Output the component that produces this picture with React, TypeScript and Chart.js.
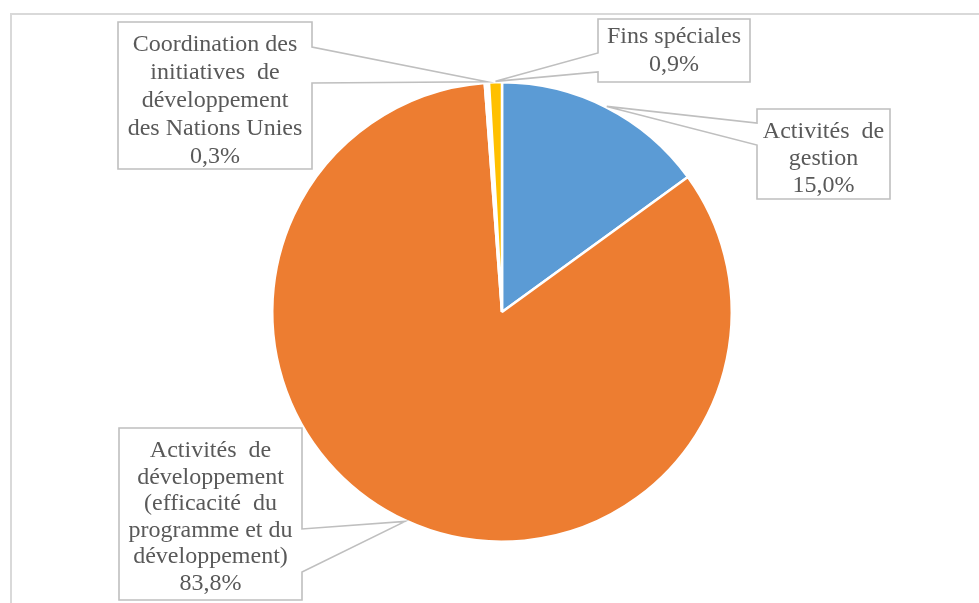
import React, { useEffect, useRef } from "react";
import { Chart, registerables } from "chart.js";

Chart.register(...registerables);

// ---- Data ----
const categories = [
  "Activités de gestion",
  "Activités de développement (efficacité du programme et du développement)",
  "Coordination des initiatives de développement des Nations Unies",
  "Fins spéciales",
];
const shares = [15.0, 83.8, 0.3, 0.9];
const labelTextLines = [
  ["Activités  de", "gestion"],
  ["Activités  de", "développement", "(efficacité  du", "programme et du", "développement)"],
  ["Coordination des", "initiatives  de", "développement", "des Nations Unies"],
  ["Fins spéciales"],
];
const sliceColors = ["#5B9BD5", "#ED7D31", "#FFFFFF", "#FFC000"];

// ---- Label callout layout (styling / positioning) ----
type Box = {
  x: number; y: number; w: number; h: number;
  side: "left" | "right"; wt: number; wb: number;
  first: number; lh: number;
};
const labelBoxes: Box[] = [
  { x: 757, y: 109, w: 133, h: 90, side: "left", wt: 123, wb: 145, first: 132, lh: 27 },
  { x: 119, y: 428, w: 183, h: 172, side: "right", wt: 529, wb: 572, first: 451, lh: 26.5 },
  { x: 118, y: 22, w: 194, h: 147, side: "right", wt: 47, wb: 83, first: 45, lh: 28 },
  { x: 598, y: 19, w: 152, h: 63, side: "left", wt: 53, wb: 72, first: 37, lh: 28 },
];

const fmt = (v: number) => v.toFixed(1).replace(".", ",") + "%";

const calloutPlugin = {
  id: "callouts",
  beforeDraw(chart: any) {
    const ctx = chart.ctx;
    ctx.save();
    ctx.strokeStyle = "#D9D9D9";
    ctx.lineWidth = 2;
    ctx.strokeRect(11, 14, 1000, 700);
    ctx.restore();
  },
  afterDraw(chart: any) {
    const ctx = chart.ctx;
    const meta = chart.getDatasetMeta(0);
    meta.data.forEach((arc: any, i: number) => {
      const b = labelBoxes[i];
      if (!b) return;
      const mid = (arc.startAngle + arc.endAngle) / 2;
      const r = arc.outerRadius + 1;
      const tx = arc.x + Math.cos(mid) * r;
      const ty = arc.y + Math.sin(mid) * r;
      ctx.save();
      ctx.beginPath();
      if (b.side === "right") {
        ctx.moveTo(b.x, b.y);
        ctx.lineTo(b.x + b.w, b.y);
        ctx.lineTo(b.x + b.w, b.wt);
        ctx.lineTo(tx, ty);
        ctx.lineTo(b.x + b.w, b.wb);
        ctx.lineTo(b.x + b.w, b.y + b.h);
        ctx.lineTo(b.x, b.y + b.h);
      } else {
        ctx.moveTo(b.x, b.y);
        ctx.lineTo(b.x + b.w, b.y);
        ctx.lineTo(b.x + b.w, b.y + b.h);
        ctx.lineTo(b.x, b.y + b.h);
        ctx.lineTo(b.x, b.wb);
        ctx.lineTo(tx, ty);
        ctx.lineTo(b.x, b.wt);
      }
      ctx.closePath();
      ctx.fillStyle = "#FFFFFF";
      ctx.fill();
      ctx.strokeStyle = "#BFBFBF";
      ctx.lineWidth = 1.6;
      ctx.lineJoin = "miter";
      ctx.stroke();

      const lines = [...labelTextLines[i], fmt(shares[i])];
      ctx.fillStyle = "#595959";
      ctx.font = '24px "Liberation Serif", "Times New Roman", serif';
      ctx.textAlign = "center";
      ctx.textBaseline = "middle";
      const cx = b.x + b.w / 2;
      lines.forEach((ln, k) => {
        ctx.fillText(ln, cx, b.first + k * b.lh);
      });
      ctx.restore();
    });
  },
};

export default function App() {
  const canvasRef = useRef<HTMLCanvasElement | null>(null);

  useEffect(() => {
    if (!canvasRef.current) return;
    const chart = new Chart(canvasRef.current, {
      type: "pie",
      data: {
        labels: categories,
        datasets: [
          {
            data: shares,
            backgroundColor: sliceColors,
            borderColor: "#FFFFFF",
            borderWidth: 2.5,
          },
        ],
      },
      options: {
        responsive: false,
        animation: false,
        layout: { padding: { left: 271, right: 246, top: 81, bottom: 60 } },
        plugins: {
          legend: { display: false },
          tooltip: { enabled: false },
        },
      },
      plugins: [calloutPlugin],
    });
    return () => chart.destroy();
  }, []);

  return (
    <div style={{ position: "absolute", left: 0, top: 0, width: 979, height: 603, background: "#FFFFFF" }}>
      <canvas ref={canvasRef} width={979} height={603} style={{ display: "block" }} />
    </div>
  );
}
